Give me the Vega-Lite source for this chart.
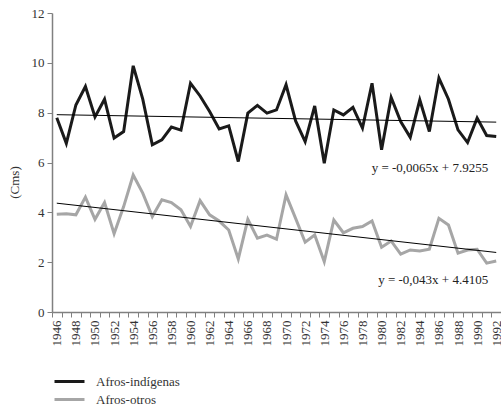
{
  "$schema": "https://vega.github.io/schema/vega-lite/v6.json",
  "autosize": {"type": "none"},
  "padding": {"left": 52, "top": 13, "right": 0, "bottom": 94},
  "width": 449,
  "height": 299,
  "background": "white",
  "config": {
    "view": {"stroke": null},
    "font": "Liberation Serif, Times New Roman, serif",
    "text": {"font": "Liberation Serif, Times New Roman, serif"}
  },
  "datasets": {
    "main": [
      {"year": 1946, "serie": "Afros-indígenas", "value": 7.80},
      {"year": 1947, "serie": "Afros-indígenas", "value": 6.77},
      {"year": 1948, "serie": "Afros-indígenas", "value": 8.31},
      {"year": 1949, "serie": "Afros-indígenas", "value": 9.05},
      {"year": 1950, "serie": "Afros-indígenas", "value": 7.83},
      {"year": 1951, "serie": "Afros-indígenas", "value": 8.54},
      {"year": 1952, "serie": "Afros-indígenas", "value": 6.98},
      {"year": 1953, "serie": "Afros-indígenas", "value": 7.24},
      {"year": 1954, "serie": "Afros-indígenas", "value": 9.88},
      {"year": 1955, "serie": "Afros-indígenas", "value": 8.54},
      {"year": 1956, "serie": "Afros-indígenas", "value": 6.71},
      {"year": 1957, "serie": "Afros-indígenas", "value": 6.91},
      {"year": 1958, "serie": "Afros-indígenas", "value": 7.42},
      {"year": 1959, "serie": "Afros-indígenas", "value": 7.30},
      {"year": 1960, "serie": "Afros-indígenas", "value": 9.18},
      {"year": 1961, "serie": "Afros-indígenas", "value": 8.67},
      {"year": 1962, "serie": "Afros-indígenas", "value": 8.05},
      {"year": 1963, "serie": "Afros-indígenas", "value": 7.35},
      {"year": 1964, "serie": "Afros-indígenas", "value": 7.47},
      {"year": 1965, "serie": "Afros-indígenas", "value": 6.04},
      {"year": 1966, "serie": "Afros-indígenas", "value": 7.98},
      {"year": 1967, "serie": "Afros-indígenas", "value": 8.29},
      {"year": 1968, "serie": "Afros-indígenas", "value": 7.98},
      {"year": 1969, "serie": "Afros-indígenas", "value": 8.11},
      {"year": 1970, "serie": "Afros-indígenas", "value": 9.12},
      {"year": 1971, "serie": "Afros-indígenas", "value": 7.67},
      {"year": 1972, "serie": "Afros-indígenas", "value": 6.84},
      {"year": 1973, "serie": "Afros-indígenas", "value": 8.27},
      {"year": 1974, "serie": "Afros-indígenas", "value": 5.97},
      {"year": 1975, "serie": "Afros-indígenas", "value": 8.11},
      {"year": 1976, "serie": "Afros-indígenas", "value": 7.91},
      {"year": 1977, "serie": "Afros-indígenas", "value": 8.21},
      {"year": 1978, "serie": "Afros-indígenas", "value": 7.38},
      {"year": 1979, "serie": "Afros-indígenas", "value": 9.18},
      {"year": 1980, "serie": "Afros-indígenas", "value": 6.51},
      {"year": 1981, "serie": "Afros-indígenas", "value": 8.61},
      {"year": 1982, "serie": "Afros-indígenas", "value": 7.64},
      {"year": 1983, "serie": "Afros-indígenas", "value": 7.01},
      {"year": 1984, "serie": "Afros-indígenas", "value": 8.51},
      {"year": 1985, "serie": "Afros-indígenas", "value": 7.24},
      {"year": 1986, "serie": "Afros-indígenas", "value": 9.39},
      {"year": 1987, "serie": "Afros-indígenas", "value": 8.54},
      {"year": 1988, "serie": "Afros-indígenas", "value": 7.31},
      {"year": 1989, "serie": "Afros-indígenas", "value": 6.80},
      {"year": 1990, "serie": "Afros-indígenas", "value": 7.78},
      {"year": 1991, "serie": "Afros-indígenas", "value": 7.08},
      {"year": 1992, "serie": "Afros-indígenas", "value": 7.04},
      {"year": 1946, "serie": "Afros-otros", "value": 3.92},
      {"year": 1947, "serie": "Afros-otros", "value": 3.94},
      {"year": 1948, "serie": "Afros-otros", "value": 3.90},
      {"year": 1949, "serie": "Afros-otros", "value": 4.61},
      {"year": 1950, "serie": "Afros-otros", "value": 3.72},
      {"year": 1951, "serie": "Afros-otros", "value": 4.39},
      {"year": 1952, "serie": "Afros-otros", "value": 3.14},
      {"year": 1953, "serie": "Afros-otros", "value": 4.23},
      {"year": 1954, "serie": "Afros-otros", "value": 5.50},
      {"year": 1955, "serie": "Afros-otros", "value": 4.77},
      {"year": 1956, "serie": "Afros-otros", "value": 3.83},
      {"year": 1957, "serie": "Afros-otros", "value": 4.50},
      {"year": 1958, "serie": "Afros-otros", "value": 4.39},
      {"year": 1959, "serie": "Afros-otros", "value": 4.10},
      {"year": 1960, "serie": "Afros-otros", "value": 3.43},
      {"year": 1961, "serie": "Afros-otros", "value": 4.47},
      {"year": 1962, "serie": "Afros-otros", "value": 3.90},
      {"year": 1963, "serie": "Afros-otros", "value": 3.65},
      {"year": 1964, "serie": "Afros-otros", "value": 3.29},
      {"year": 1965, "serie": "Afros-otros", "value": 2.13},
      {"year": 1966, "serie": "Afros-otros", "value": 3.72},
      {"year": 1967, "serie": "Afros-otros", "value": 2.96},
      {"year": 1968, "serie": "Afros-otros", "value": 3.09},
      {"year": 1969, "serie": "Afros-otros", "value": 2.92},
      {"year": 1970, "serie": "Afros-otros", "value": 4.70},
      {"year": 1971, "serie": "Afros-otros", "value": 3.76},
      {"year": 1972, "serie": "Afros-otros", "value": 2.80},
      {"year": 1973, "serie": "Afros-otros", "value": 3.09},
      {"year": 1974, "serie": "Afros-otros", "value": 2.02},
      {"year": 1975, "serie": "Afros-otros", "value": 3.69},
      {"year": 1976, "serie": "Afros-otros", "value": 3.18},
      {"year": 1977, "serie": "Afros-otros", "value": 3.36},
      {"year": 1978, "serie": "Afros-otros", "value": 3.43},
      {"year": 1979, "serie": "Afros-otros", "value": 3.65},
      {"year": 1980, "serie": "Afros-otros", "value": 2.60},
      {"year": 1981, "serie": "Afros-otros", "value": 2.85},
      {"year": 1982, "serie": "Afros-otros", "value": 2.32},
      {"year": 1983, "serie": "Afros-otros", "value": 2.49},
      {"year": 1984, "serie": "Afros-otros", "value": 2.45},
      {"year": 1985, "serie": "Afros-otros", "value": 2.52},
      {"year": 1986, "serie": "Afros-otros", "value": 3.76},
      {"year": 1987, "serie": "Afros-otros", "value": 3.49},
      {"year": 1988, "serie": "Afros-otros", "value": 2.36},
      {"year": 1989, "serie": "Afros-otros", "value": 2.49},
      {"year": 1990, "serie": "Afros-otros", "value": 2.52},
      {"year": 1991, "serie": "Afros-otros", "value": 1.96},
      {"year": 1992, "serie": "Afros-otros", "value": 2.05}
    ],
    "trend": [
      {"year": 1946, "serie": "Afros-indígenas", "value": 7.919},
      {"year": 1992, "serie": "Afros-indígenas", "value": 7.62},
      {"year": 1946, "serie": "Afros-otros", "value": 4.3675},
      {"year": 1992, "serie": "Afros-otros", "value": 2.3895}
    ],
    "labels": [
      {"year": 1991, "value": 5.78, "text": "y = -0,0065x + 7.9255"},
      {"year": 1991, "value": 1.29, "text": "y = -0,043x + 4.4105"}
    ]
  },
  "encoding": {
    "x": {
      "field": "year",
      "type": "ordinal",
      "bandPosition": 0.5,
      "scale": {"type": "band", "paddingInner": 0, "paddingOuter": 0},
      "axis": {
        "title": null,
        "tickBand": "extent",
        "labelAngle": -90,
        "labelExpr": "datum.value % 2 == 0 ? datum.label : ''",
        "labelOverlap": false,
        "labelBound": false,
        "labelFont": "Liberation Serif, Times New Roman, serif",
        "labelFontSize": 13,
        "labelColor": "#333333",
        "labelPadding": 3,
        "tickSize": 5,
        "tickColor": "#808080",
        "domainColor": "#808080",
        "domainWidth": 1.5,
        "tickWidth": 1
      }
    },
    "y": {
      "field": "value",
      "type": "quantitative",
      "scale": {"domain": [0, 12], "nice": false, "zero": true},
      "axis": {
        "title": "(Cms)",
        "values": [0, 2, 4, 6, 8, 10, 12],
        "grid": false,
        "labelFont": "Liberation Serif, Times New Roman, serif",
        "labelFontSize": 13,
        "labelColor": "#333333",
        "labelPadding": 3,
        "tickSize": 5,
        "tickColor": "#808080",
        "domainColor": "#808080",
        "domainWidth": 1.5,
        "titleFont": "Liberation Serif, Times New Roman, serif",
        "titleFontSize": 13,
        "titleFontWeight": "normal",
        "titleColor": "#333333",
        "titleAngle": -90,
        "titleX": -38,
        "titleY": 169,
        "titleAlign": "center",
        "titleBaseline": "middle"
      }
    }
  },
  "layer": [
    {
      "data": {"name": "main"},
      "mark": {"type": "line", "strokeWidth": 3, "strokeJoin": "miter"},
      "encoding": {
        "color": {
          "field": "serie",
          "type": "nominal",
          "scale": {"domain": ["Afros-indígenas", "Afros-otros"], "range": ["#1a1a1a", "#a6a6a6"]},
          "legend": {
            "title": null,
            "orient": "none",
            "legendX": 21,
            "legendY": 362,
            "padding": 0,
            "symbolType": "M-5,0H1",
            "symbolSize": 100,
            "symbolStrokeWidth": 3,
            "symbolFillColor": "transparent",
            "labelOffset": 10,
            "rowPadding": 4,
            "labelFont": "Liberation Serif, Times New Roman, serif",
            "labelFontSize": 13,
            "labelColor": "#333333"
          }
        }
      }
    },
    {
      "data": {"name": "trend"},
      "mark": {"type": "line", "strokeWidth": 1, "color": "#000000"},
      "encoding": {"detail": {"field": "serie", "type": "nominal"}}
    },
    {
      "data": {"name": "labels"},
      "mark": {"type": "text", "align": "right", "baseline": "middle", "dx": 1.5, "fontSize": 13, "font": "Liberation Serif, Times New Roman, serif", "color": "#222222"},
      "encoding": {"text": {"field": "text"}}
    }
  ]
}
